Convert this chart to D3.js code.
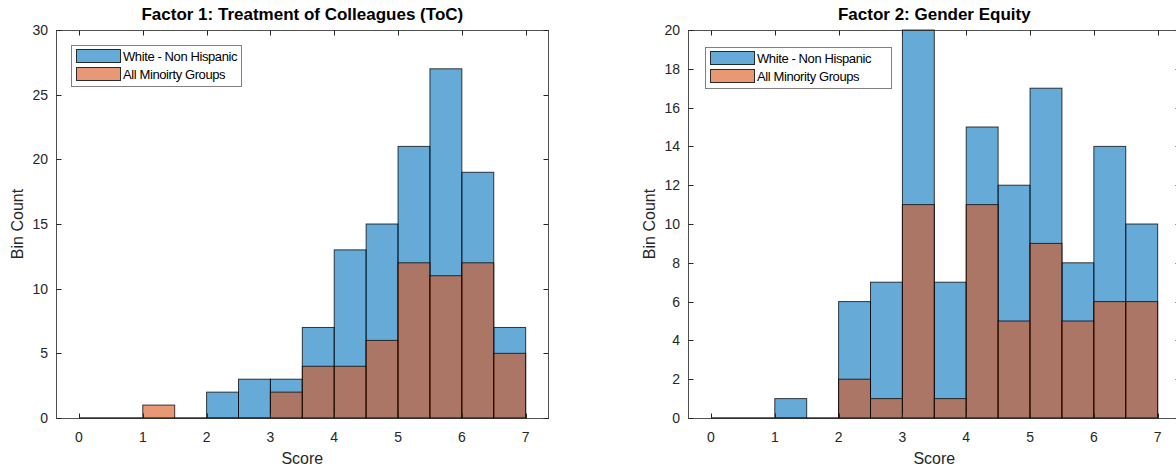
<!DOCTYPE html>
<html>
<head>
<meta charset="utf-8">
<script src="https://cdn.jsdelivr.net/npm/d3@7"></script>
<style>
  body { margin: 0; background: #fff; }
  svg { display: block; font-family: "Liberation Sans", Arial, sans-serif; }
</style>
</head>
<body>
<svg id="chart" width="1176" height="467"></svg>
<script>
// bin edges shared by both histograms (width 0.5, from 0 to 7)
const binEdges = [0, 0.5, 1, 1.5, 2, 2.5, 3, 3.5, 4, 4.5, 5, 5.5, 6, 6.5, 7];
const seriesNames = ['White - Non Hispanic', 'All Minoirty Groups'];
const seriesNames2 = ['White - Non Hispanic', 'All Minority Groups'];

// Factor 1 counts per bin
const tocWhite    = [0, 0, 0, 0, 2, 3, 3, 7, 13, 15, 21, 27, 19, 7];
const tocMinority = [0, 0, 1, 0, 0, 0, 2, 4, 4, 6, 12, 11, 12, 5];
// Factor 2 counts per bin
const geWhite    = [0, 0, 1, 0, 6, 7, 20, 7, 15, 12, 17, 8, 14, 10];
const geMinority = [0, 0, 0, 0, 2, 1, 11, 1, 11, 5, 9, 5, 6, 6];

const xTicks = [0, 1, 2, 3, 4, 5, 6, 7];
const yTicks1 = [0, 5, 10, 15, 20, 25, 30];
const yTicks2 = [0, 2, 4, 6, 8, 10, 12, 14, 16, 18, 20];

const COLORS = ['#0072BD', '#D95319'];
const AXIS = '#262626';
const PLOT_W = 492;

const svg = d3.select('#chart');

function drawPanel(opts) {
    const g = svg.append('g');
    const x = d3.scaleLinear().domain([-0.36, 7.35]).range([opts.left, opts.left + PLOT_W]);
    const y = d3.scaleLinear().domain([0, opts.ymax]).range([418, 30]);

    const clipId = 'clip' + opts.id;
    svg.append('clipPath').attr('id', clipId)
        .append('rect').attr('x', x.range()[0]).attr('y', 29)
        .attr('width', PLOT_W).attr('height', 390);

    const plot = g.append('g').attr('clip-path', `url(#${clipId})`);

    opts.series.forEach((counts, si) => {
        const bins = counts.map((c, i) => ({ x0: binEdges[i], x1: binEdges[i + 1], c }));
        plot.selectAll(null)
            .data(bins.filter(d => d.c > 0))
            .enter().append('rect')
            .attr('x', d => x(d.x0))
            .attr('y', d => y(d.c))
            .attr('width', d => x(d.x1) - x(d.x0))
            .attr('height', d => y(0) - y(d.c))
            .attr('fill', COLORS[si])
            .attr('fill-opacity', 0.6)
            .attr('stroke', '#000')
            .attr('stroke-opacity', 0.75)
            .attr('stroke-width', 1);
        // empty bins show up as a flat edge on the baseline
        plot.selectAll(null)
            .data(bins.filter(d => d.c === 0))
            .enter().append('line')
            .attr('x1', d => x(d.x0)).attr('x2', d => x(d.x1))
            .attr('y1', y(0)).attr('y2', y(0))
            .attr('stroke', '#000').attr('stroke-opacity', 0.75);
    });

    // axes box with inward ticks
    const [x0, x1] = x.range();
    const tl = 5;
    const ax = g.append('g').attr('stroke', AXIS).attr('stroke-width', 1).attr('fill', 'none');
    ax.append('rect').attr('x', x0 + 0.5).attr('y', 30.5).attr('width', x1 - x0).attr('height', 388)
        .attr('stroke-opacity', 0.8);
    xTicks.forEach(t => {
        const px = Math.round(x(t)) + 0.5;
        ax.append('line').attr('x1', px).attr('x2', px).attr('y1', 418.5).attr('y2', 418.5 - tl);
        ax.append('line').attr('x1', px).attr('x2', px).attr('y1', 30.5).attr('y2', 30.5 + tl);
    });
    opts.yTicks.forEach(t => {
        const py = Math.round(y(t)) + 0.5;
        ax.append('line').attr('x1', x0 + 0.5).attr('x2', x0 + 0.5 + tl).attr('y1', py).attr('y2', py);
        ax.append('line').attr('x1', x1 + 0.5).attr('x2', x1 + 0.5 - tl).attr('y1', py).attr('y2', py);
    });

    g.selectAll(null).data(xTicks).enter().append('text')
        .attr('x', d => x(d)).attr('y', 442)
        .attr('text-anchor', 'middle').attr('fill', AXIS)
        .style('font-size', '14px').text(d => d);
    g.selectAll(null).data(opts.yTicks).enter().append('text')
        .attr('x', x0 - 8).attr('y', d => y(d) + 5)
        .attr('text-anchor', 'end').attr('fill', AXIS)
        .style('font-size', '14px').text(d => d);

    g.append('text').attr('x', x(3.5)).attr('y', 464)
        .attr('text-anchor', 'middle').attr('fill', AXIS)
        .style('font-size', '16px').text('Score');
    g.append('text')
        .attr('transform', `translate(${x0 - 33},224) rotate(-90)`)
        .attr('text-anchor', 'middle').attr('fill', AXIS)
        .style('font-size', '16px').text('Bin Count');
    g.append('text').attr('x', x(3.5)).attr('y', 20)
        .attr('text-anchor', 'middle').attr('fill', '#000')
        .style('font-size', '17px').style('font-weight', 'bold').text(opts.title);

    // legend
    const lg = g.append('g').attr('transform', `translate(${opts.legX},${opts.legY})`);
    lg.append('rect').attr('x', 0.5).attr('y', 0.5).attr('width', opts.legW).attr('height', 41)
        .attr('fill', '#fff').attr('stroke', '#808080');
    opts.names.forEach((n, i) => {
        lg.append('rect').attr('x', 5.5).attr('y', 4.5 + i * 18).attr('width', 44).attr('height', 13)
            .attr('fill', COLORS[i]).attr('fill-opacity', 0.6)
            .attr('stroke', '#000').attr('stroke-opacity', 0.8);
        lg.append('text').attr('x', 52).attr('y', 16 + i * 18)
            .attr('fill', '#000').style('font-size', '13px').style('letter-spacing', '-0.4px').text(n);
    });
}

drawPanel({ id: 1, left: 56, ymax: 30, yTicks: yTicks1, series: [tocWhite, tocMinority],
    title: 'Factor 1: Treatment of Colleagues (ToC)',
    names: seriesNames, legX: 71, legY: 45, legW: 170 });
drawPanel({ id: 2, left: 688, ymax: 20, yTicks: yTicks2, series: [geWhite, geMinority],
    title: 'Factor 2: Gender Equity',
    names: seriesNames2, legX: 705, legY: 47, legW: 186 });
</script>
</body>
</html>
